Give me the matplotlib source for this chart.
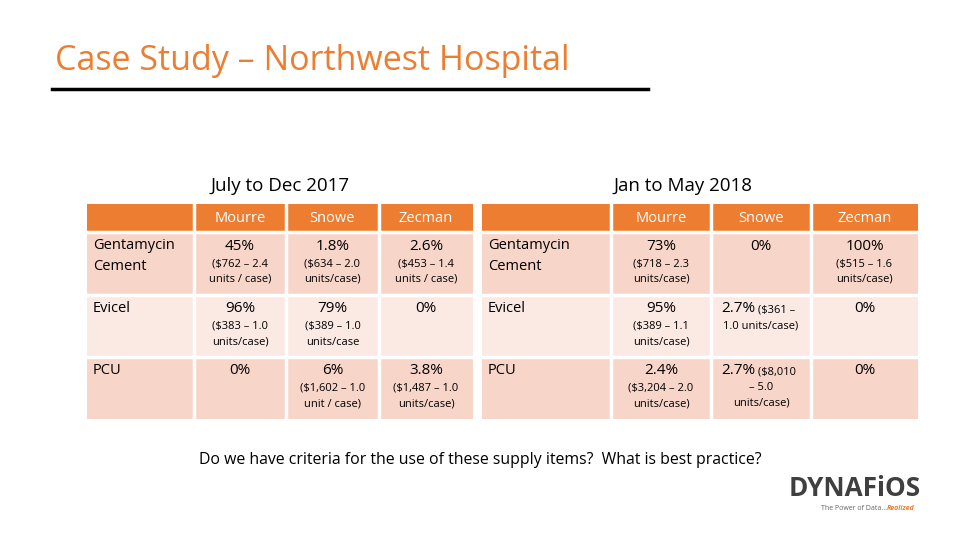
import matplotlib.pyplot as plt
from matplotlib.patches import Rectangle

plt.rcParams['font.family'] = ['Open Sans', 'DejaVu Sans']

ORANGE = "#ED7D31"
PINK = "#F8D5C9"
LIGHT = "#FBE9E3"

products = ["Gentamycin\nCement", "Evicel", "PCU"]
surgeons = ["Mourre", "Snowe", "Zecman"]

# period 1: percent and detail
p1_pct = [["45%", "1.8%", "2.6%"],
          ["96%", "79%", "0%"],
          ["0%", "6%", "3.8%"]]
p1_det = [["($762 – 2.4\nunits / case)", "($634 – 2.0\nunits/case)", "($453 – 1.4\nunits / case)"],
          ["($383 – 1.0\nunits/case)", "($389 – 1.0\nunits/case", ""],
          ["", "($1,602 – 1.0\nunit / case)", "($1,487 – 1.0\nunits/case)"]]

p2_pct = [["73%", "0%", "100%"],
          ["95%", "2.7%", "0%"],
          ["2.4%", "2.7%", "0%"]]
p2_det = [["($718 – 2.3\nunits/case)", "", "($515 – 1.6\nunits/case)"],
          ["($389 – 1.1\nunits/case)", "", ""],
          ["($3,204 – 2.0\nunits/case)", "", ""]]
# detail written right after the percent (Snowe 2018)
p2_inline = [["", "", ""],
             ["", " ($361 –\n1.0 units/case)", ""],
             ["", " ($8,010\n– 5.0\nunits/case)", ""]]

fig = plt.figure(figsize=(9.6, 5.4), dpi=100)
ax = fig.add_axes([0, 0, 1, 1])
ax.set_xlim(0, 960)
ax.set_ylim(540, 0)
ax.axis('off')

ax.text(55, 61, "Case Study – Northwest Hospital", color=ORANGE, fontsize=24.5,
        va='center', ha='left')
ax.plot([52, 648], [89, 89], color='black', lw=2.5)

header_y = (204, 232)
rows_y = [(232, 295), (295, 357), (357, 419)]


def draw_table(cols, title, title_x, pct, det, inline=None):
    ax.text(title_x, 186, title, fontsize=13.5, ha='center', va='center')
    x0, x1 = cols[0], cols[-1]
    ax.add_patch(Rectangle((x0, header_y[0]), x1 - x0, header_y[1] - header_y[0],
                           facecolor=ORANGE, edgecolor='none'))
    for j, s in enumerate(surgeons):
        cx = (cols[j + 1] + cols[j + 2]) / 2
        ax.text(cx, 218, s, color='white', fontsize=10.5, ha='center', va='center')
    for i, (ya, yb) in enumerate(rows_y):
        ax.add_patch(Rectangle((x0, ya), x1 - x0, yb - ya,
                               facecolor=LIGHT if i == 1 else PINK, edgecolor='none'))
        ax.text(x0 + 6, ya + 6, products[i], fontsize=10.5, ha='left', va='top',
                linespacing=1.55)
        for j in range(3):
            cx = (cols[j + 1] + cols[j + 2]) / 2
            if inline and inline[i][j]:
                lines = inline[i][j].split("\n")
                ax.text(cx - 6, ya + 14, pct[i][j], fontsize=11, ha='right', va='center')
                ax.text(cx - 6, ya + 15, lines[0], fontsize=8, ha='left', va='center')
                ax.text(cx, ya + 25, "\n".join(lines[1:]), fontsize=8, ha='center',
                        va='top', linespacing=1.6)
                continue
            ax.text(cx, ya + 14, pct[i][j], fontsize=11, ha='center', va='center')
            if det[i][j]:
                ax.text(cx, ya + 26, det[i][j], fontsize=8, ha='center', va='top',
                        linespacing=1.6)
    # white grid lines
    for x in cols[1:-1]:
        ax.plot([x, x], [header_y[0], rows_y[-1][1]], color='white', lw=2.5)
    for ya, _ in rows_y:
        ax.plot([x0, x1], [ya, ya], color='white', lw=2.5)


draw_table([87, 194, 286, 379, 473], "July to Dec 2017", 280, p1_pct, p1_det)
draw_table([482, 611, 711, 811, 918], "Jan to May 2018", 683, p2_pct, p2_det, p2_inline)

ax.text(480, 460, "Do we have criteria for the use of these supply items?  What is best practice?",
        fontsize=11.4, ha='center', va='center')

ax.text(789, 488, "DYNAFiOS", fontsize=18.8, fontweight='bold', color='#3F3F3F',
        ha='left', va='center')
ax.text(887, 508, "The Power of Data...", fontsize=5, color='#666666', ha='right', va='center')
ax.text(887, 508, "Realized", fontsize=5, color=ORANGE, style='italic',
        fontweight='bold', ha='left', va='center')

fig.savefig("out.png", dpi=100)
